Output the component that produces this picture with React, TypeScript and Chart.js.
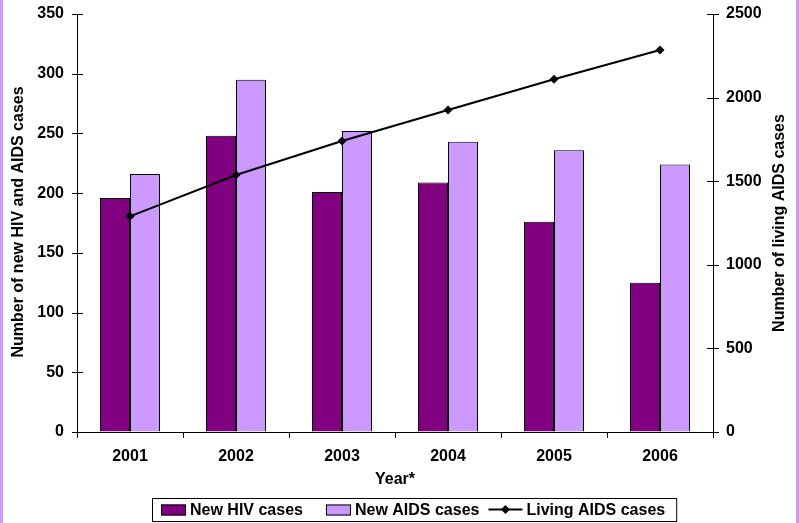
import React, { useEffect, useRef } from 'react';
import { Chart, registerables } from 'chart.js';

Chart.register(...registerables);

const years = ['2001', '2002', '2003', '2004', '2005', '2006'];
const newHivCases = [196, 248, 201, 209, 176, 125];
const newAidsCases = [216, 295, 252, 243, 236, 224];
const livingAidsCases = [1290, 1537, 1740, 1926, 2110, 2285];
const seriesNames = ['New HIV cases', 'New AIDS cases', 'Living AIDS cases'];
const leftAxisTitle = 'Number of new HIV and AIDS cases';
const rightAxisTitle = 'Number of living AIDS cases';
const xAxisTitle = 'Year*';
const leftMax = 350;
const leftStep = 50;
const rightMax = 2500;
const rightStep = 500;

const FONT_FAMILY = '"Liberation Sans", Arial, Helvetica, sans-serif';
const FONT = `bold 16px ${FONT_FAMILY}`;
const HIV_COLOR = '#800080';
const AIDS_COLOR = '#CC99FF';

const decorPlugin = {
  id: 'decor',
  beforeDraw(chart: any) {
    const { ctx, width, height } = chart;
    ctx.save();
    ctx.fillStyle = '#ffffff';
    ctx.fillRect(0, 0, width, height);
    ctx.fillStyle = '#CC99FF';
    ctx.fillRect(0, 0, 3, height);
    ctx.fillRect(width - 3, 0, 3, height);
    ctx.restore();
  },
  afterDraw(chart: any) {
    const { ctx, chartArea, scales } = chart;
    const { left, right, top, bottom } = chartArea;
    const y = scales.y;
    const y2 = scales.y2;
    const x = scales.x;
    ctx.save();
    ctx.strokeStyle = '#000';
    ctx.lineWidth = 1;
    ctx.beginPath();
    y.ticks.forEach((_t: any, i: number) => {
      const py = Math.round(y.getPixelForTick(i)) + 0.5;
      ctx.moveTo(left - 5, py);
      ctx.lineTo(left + 6, py);
    });
    y2.ticks.forEach((_t: any, i: number) => {
      const py = Math.round(y2.getPixelForTick(i)) + 0.5;
      ctx.moveTo(right - 6, py);
      ctx.lineTo(right + 6, py);
    });
    for (let i = 0; i <= years.length; i++) {
      const px = Math.round(x.getPixelForValue(i - 0.5)) + 0.5;
      ctx.moveTo(px, bottom);
      ctx.lineTo(px, bottom + 6);
    }
    ctx.stroke();

    // titles
    ctx.fillStyle = '#000';
    ctx.font = FONT;
    ctx.textAlign = 'center';
    ctx.textBaseline = 'middle';
    const cy = (top + bottom) / 2;
    ctx.save();
    ctx.translate(19, cy - 1);
    ctx.rotate(-Math.PI / 2);
    ctx.fillText(leftAxisTitle, 0, 0);
    ctx.restore();
    ctx.save();
    ctx.translate(780, cy);
    ctx.rotate(-Math.PI / 2);
    ctx.fillText(rightAxisTitle, 0, 0);
    ctx.restore();
    ctx.fillText(xAxisTitle, (left + right) / 2, 480);

    // legend
    const lx = 152;
    const ly = 498;
    const lh = 23;
    const midY = ly + lh / 2;
    ctx.textAlign = 'left';
    let cx = lx + 9;
    const ds = chart.data.datasets;
    const parts: any[] = [];
    seriesNames.forEach((name, idx) => {
      parts.push({ idx, x: cx, d: ds.find((d: any) => d.label === name) });
      const sym = idx === 2 ? 34 : 25;
      const tw = ctx.measureText(name).width;
      cx += sym + 4 + tw + (idx === 0 ? 23 : 9);
    });
    const lw = cx - 9 + 11 - lx;
    ctx.strokeStyle = '#000';
    ctx.strokeRect(lx + 0.5, ly + 0.5, lw, lh);
    parts.forEach(({ idx, x: px, d }) => {
      if (idx === 2) {
        ctx.beginPath();
        ctx.strokeStyle = d.borderColor;
        ctx.lineWidth = 2;
        ctx.moveTo(px, midY);
        ctx.lineTo(px + 34, midY);
        ctx.stroke();
        ctx.beginPath();
        ctx.fillStyle = d.pointBackgroundColor;
        const mx = px + 17;
        ctx.moveTo(mx, midY - 4.5);
        ctx.lineTo(mx + 4.5, midY);
        ctx.lineTo(mx, midY + 4.5);
        ctx.lineTo(mx - 4.5, midY);
        ctx.closePath();
        ctx.fill();
        ctx.lineWidth = 1;
        ctx.fillStyle = '#000';
        ctx.fillText(seriesNames[idx], px + 38, midY + 1);
      } else {
        ctx.fillStyle = d.backgroundColor;
        ctx.fillRect(px, midY - 5, 25, 11);
        ctx.strokeStyle = '#000';
        ctx.lineWidth = 1;
        ctx.strokeRect(px + 0.5, midY - 5 + 0.5, 24, 10);
        ctx.fillStyle = '#000';
        ctx.fillText(seriesNames[idx], px + 29, midY + 1);
      }
    });
    ctx.restore();
  },
};

export default function App() {
  const ref = useRef<HTMLCanvasElement | null>(null);
  useEffect(() => {
    document.body.style.margin = '0';
    const canvas = ref.current;
    if (!canvas) return;
    const tickFont = { family: FONT_FAMILY, size: 16, weight: 'bold' as const };
    const fitY = (w: number) => (s: any) => {
      s.width = w;
      s.paddingTop = 0;
      s.paddingBottom = 0;
    };
    const chart = new Chart(canvas, {
      type: 'bar',
      data: {
        labels: years,
        datasets: [
          {
            type: 'line' as const,
            label: seriesNames[2],
            data: livingAidsCases,
            yAxisID: 'y2',
            borderColor: '#000',
            backgroundColor: '#000',
            borderWidth: 2,
            pointStyle: 'rectRot',
            pointRadius: 4.5,
            pointBorderWidth: 0,
            pointBackgroundColor: '#000',
            tension: 0,
            order: 0,
          } as any,
          {
            label: seriesNames[0],
            data: newHivCases,
            backgroundColor: HIV_COLOR,
            borderColor: '#000',
            borderWidth: 1,
            yAxisID: 'y',
            order: 1,
          },
          {
            label: seriesNames[1],
            data: newAidsCases,
            backgroundColor: AIDS_COLOR,
            borderColor: '#000',
            borderWidth: 1,
            yAxisID: 'y',
            order: 1,
          },
        ],
      },
      options: {
        responsive: false,
        animation: false,
        devicePixelRatio: 1,
        datasets: { bar: { categoryPercentage: 60 / 106, barPercentage: 1 } },
        layout: { padding: { top: 14, bottom: 33, left: 0, right: 0 } },
        plugins: { legend: { display: false }, tooltip: { enabled: false } },
        scales: {
          x: {
            grid: { display: true, drawOnChartArea: false, drawTicks: false, offset: true },
            border: { display: true, color: '#000', width: 1 },
            ticks: { font: tickFont, color: '#000', padding: 15, maxRotation: 0 },
            afterFit: (s: any) => { s.height = 58; s.paddingLeft = 0; s.paddingRight = 0; },
          },
          y: {
            position: 'left',
            min: 0,
            max: leftMax,
            grid: { display: true, drawOnChartArea: false, drawTicks: false },
            border: { display: true, color: '#000', width: 1 },
            ticks: { stepSize: leftStep, font: tickFont, color: '#000', padding: 13, callback: (v: any) => String(v) },
            afterFit: fitY(77),
          },
          y2: {
            position: 'right',
            min: 0,
            max: rightMax,
            grid: { display: true, drawOnChartArea: false, drawTicks: false },
            border: { display: true, color: '#000', width: 1 },
            ticks: { stepSize: rightStep, font: tickFont, color: '#000', padding: 13, callback: (v: any) => String(v) },
            afterFit: fitY(86),
          },
        },
      } as any,
      plugins: [decorPlugin],
    });
    return () => chart.destroy();
  }, []);
  return (
    <div style={{ position: 'absolute', left: 0, top: 0, width: 799, height: 523 }}>
      <canvas ref={ref} width={799} height={523} style={{ display: 'block' }} />
    </div>
  );
}
